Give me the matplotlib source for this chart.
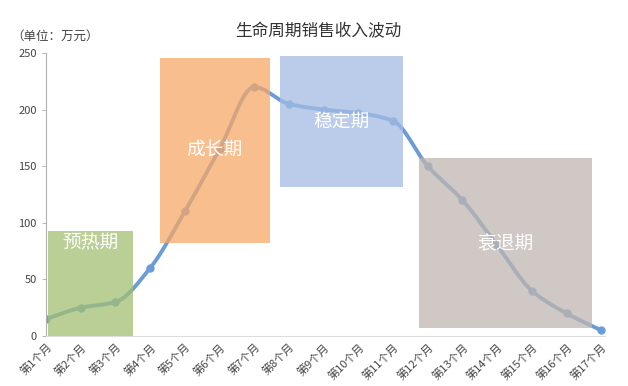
import numpy as np
import matplotlib
matplotlib.use("Agg")
import matplotlib.pyplot as plt
from matplotlib.patches import Rectangle

plt.rcParams['font.family'] = ['Noto Sans CJK SC', 'DejaVu Sans']

months = [f"第{i}个月" for i in range(1, 18)]
values = [15, 25, 30, 60, 110, 165, 220, 205, 200, 197, 190, 150, 120, 80, 40, 20, 5]
phases = ["预热期", "成长期", "稳定期", "衰退期"]
phase_x0 = [1.05, 4.28, 7.73, 11.76]
phase_x1 = [3.5, 7.45, 11.3, 16.74]
phase_y0 = [0, 82, 132, 7]
phase_y1 = [93, 246, 247, 157]
phase_colors = ["#a3bf72", "#f7a867", "#a3bce3", "#bfb6b0"]
phase_text_y = [82, 164, 190, 82]

def pchip(x, y, xs):
    x = np.asarray(x, float); y = np.asarray(y, float)
    h = np.diff(x); d = np.diff(y) / h
    m = np.zeros_like(y)
    for k in range(1, len(y) - 1):
        if d[k - 1] * d[k] > 0:
            w1 = 2 * h[k] + h[k - 1]; w2 = h[k] + 2 * h[k - 1]
            m[k] = (w1 + w2) / (w1 / d[k - 1] + w2 / d[k])
    m[0] = d[0]; m[-1] = d[-1]
    idx = np.clip(np.searchsorted(x, xs) - 1, 0, len(x) - 2)
    t = (xs - x[idx]) / h[idx]
    h00 = 2*t**3 - 3*t**2 + 1; h10 = t**3 - 2*t**2 + t
    h01 = -2*t**3 + 3*t**2; h11 = t**3 - t**2
    return h00*y[idx] + h10*h[idx]*m[idx] + h01*y[idx+1] + h11*h[idx]*m[idx+1]

fig = plt.figure(figsize=(6.28, 3.86), dpi=100)
ax = fig.add_axes([0.0732, 0.1295, 0.8898, 0.7332])

xs = np.arange(1, len(values) + 1)
xf = np.linspace(1, len(values), 400)
ax.plot(xf, pchip(xs, values, xf), color="#6c9cd6", lw=2.8, zorder=2, solid_capstyle='round')
ax.plot(xs, values, 'o', color="#6c9cd6", ms=5, zorder=2)

for name, x0, x1, y0, y1, c, ty in zip(phases, phase_x0, phase_x1, phase_y0, phase_y1, phase_colors, phase_text_y):
    ax.add_patch(Rectangle((x0, y0), x1 - x0, y1 - y0, facecolor=c, edgecolor='none', alpha=0.75, zorder=3))
    ax.text((x0 + x1) / 2, ty, name, color='white', fontsize=13.5, ha='center', va='center', zorder=4)

ax.set_xlim(1, 17.1)
ax.set_ylim(0, 250)
ax.set_yticks([0, 50, 100, 150, 200, 250])
ax.set_xticks(xs)
ax.set_xticklabels(months, rotation=45, ha='right', rotation_mode='anchor', fontsize=8, color='#444444')
ax.tick_params(axis='y', labelsize=8, colors='#444444', length=3, width=0.6, color='#aaaaaa')
ax.tick_params(axis='x', length=0, pad=4)
for s in ['top', 'right']:
    ax.spines[s].set_visible(False)
ax.spines['left'].set_color('#b0b0b0')
ax.spines['bottom'].set_color('#dddddd')

fig.text(0.506, 0.918, "生命周期销售收入波动", ha='center', va='center', fontsize=12, color='#333333')
fig.text(0.088, 0.905, "（单位：万元）", ha='center', va='center', fontsize=9, color='#444444')

fig.savefig("out.png", dpi=100)
